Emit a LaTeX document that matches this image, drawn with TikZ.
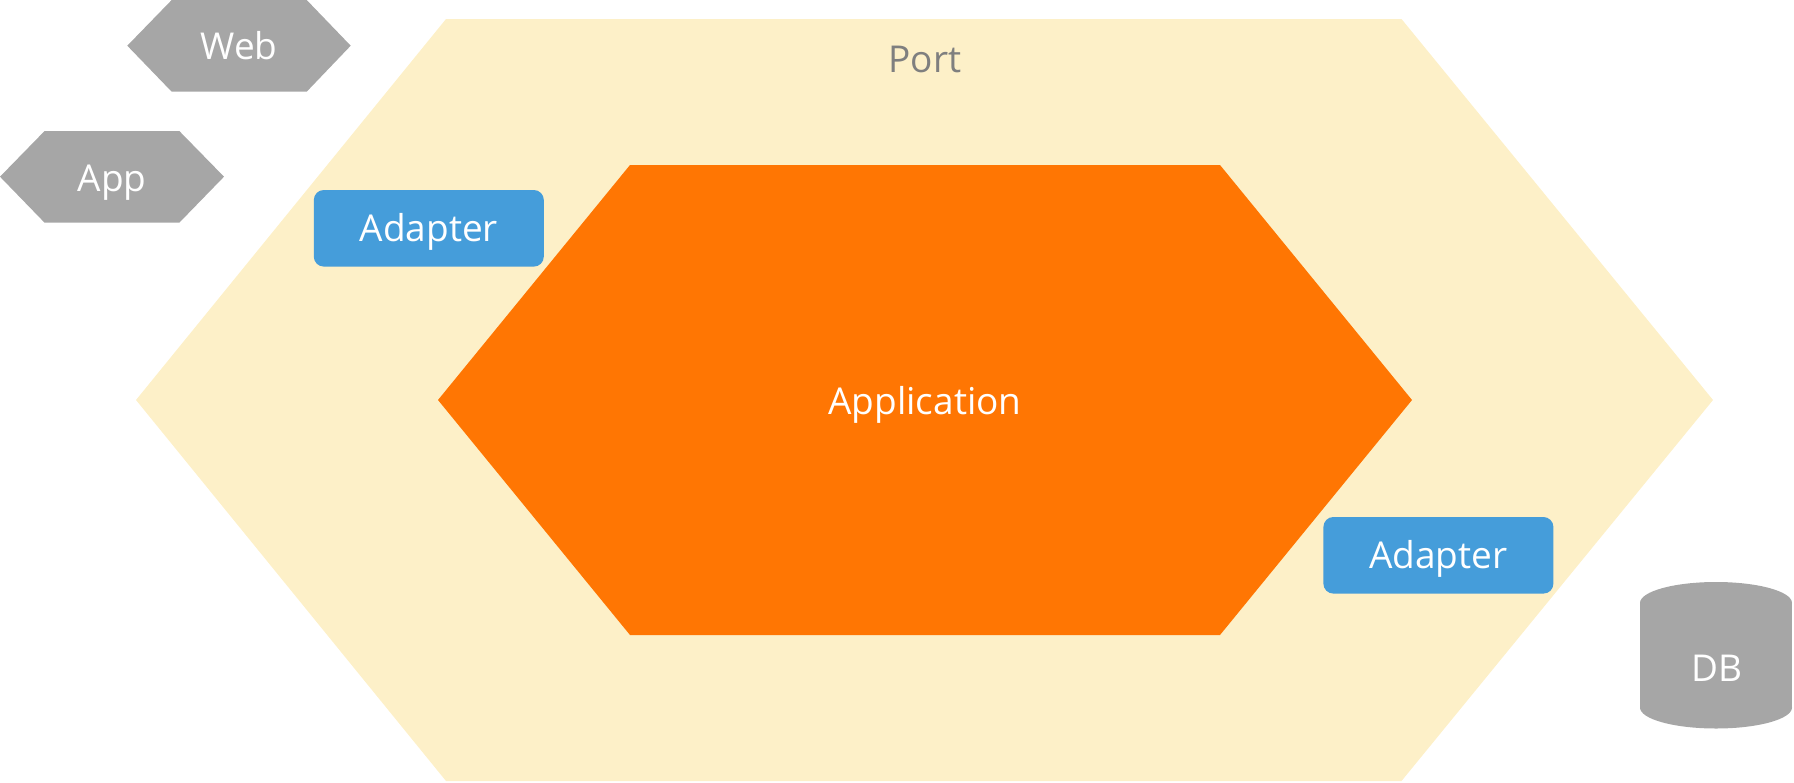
\documentclass[tikz,border=0pt]{standalone}
\usepackage{fontspec}
\setmainfont{Open Sans}
\usepackage{tikz}

\definecolor{portfill}{HTML}{FDF0C8}
\definecolor{corefill}{HTML}{FF7603}
\definecolor{adapterfill}{HTML}{459DDA}
\definecolor{outgray}{HTML}{A6A6A6}
\definecolor{porttext}{HTML}{7F7F7F}

\tikzset{
	caption/.style={font=\fontsize{18.5}{22}\selectfont, text height=13.2pt, text depth=0pt, inner sep=0pt},
	whitecaption/.style={caption, text=white},
	adapterbox/.style={whitecaption, fill=adapterfill, rounded corners=5pt, minimum width=115pt, minimum height=38.3pt}
}

\begin{document}
\begin{tikzpicture}[x=0.5pt, y=-0.5pt]
			%%%%% START %%%%%
			\useasboundingbox (0, 0) rectangle (1794, 782);
			
			\fill[portfill] (136, 400) -- (446, 19) -- (1401.5, 19) -- (1713, 400) -- (1401.5, 781) -- (446, 781) -- cycle;
			\node[caption, text=porttext] (port) at (925, 58.8) {Port};
			
			\fill[corefill] (438, 400) -- (630, 165) -- (1220, 165) -- (1412, 400) -- (1220, 635) -- (630, 635) -- cycle;
			\node[whitecaption] (core) at (925, 400.8) {Application};
			
			\node[adapterbox] (adapterA) at (428.8, 228.3) {Adapter};
			\node[adapterbox] (adapterB) at (1438.4, 555.3) {Adapter};
			
			\fill[outgray] (127.3, 45.7) -- (171.7, 0) -- (306.7, 0) -- (350.7, 45.7) -- (306.7, 91.7) -- (171.7, 91.7) -- cycle;
			\node[whitecaption] (web) at (239, 46.2) {Web};
			
			\fill[outgray] (0, 176.7) -- (44.6, 131) -- (179.3, 131) -- (224, 176.7) -- (179.3, 222.7) -- (44.6, 222.7) -- cycle;
			\node[whitecaption] (app) at (112, 178) {App};
			
			\fill[outgray] (1640, 603) rectangle (1792, 707.5);
			\fill[outgray] (1716, 603) ellipse [x radius=76, y radius=21];
			\fill[outgray] (1716, 707.5) ellipse [x radius=76, y radius=21];
			\node[whitecaption] (db) at (1717, 668.7) {DB};
			
			%%%%% END %%%%%
		\end{tikzpicture}
\end{document}
